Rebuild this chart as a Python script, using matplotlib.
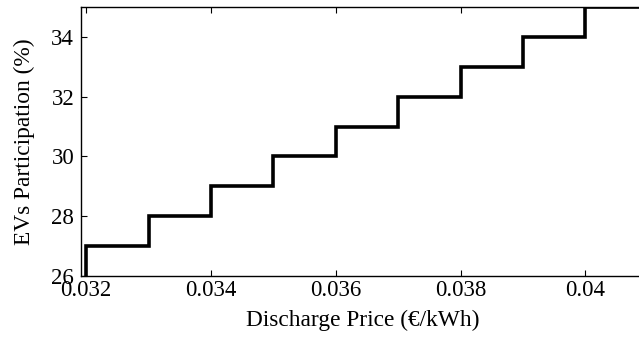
import numpy as np
import matplotlib.pyplot as plt

# discharge price (EUR/kWh) at which each participation level starts
price = [0.032, 0.032, 0.033, 0.034, 0.035, 0.036, 0.037, 0.038, 0.039, 0.040, 0.041]
participation = [26, 27, 28, 29, 30, 31, 32, 33, 34, 35, 35]

xticks = [0.032, 0.034, 0.036, 0.038, 0.04]
xticklabels = ['0.032', '0.034', '0.036', '0.038', '0.04']
yticks = [26, 28, 30, 32, 34]

plt.rcParams['font.family'] = ['Liberation Serif', 'DejaVu Serif']

fig = plt.figure(figsize=(6.39, 3.37), dpi=100)
ax = fig.add_axes([0.127, 0.181, 0.88, 0.798])

ax.step(price, participation, where='post', color='black', lw=2.6, solid_joinstyle='miter')

ax.set_xlim(0.03192, 0.04093)
ax.set_ylim(26, 35)
ax.set_xticks(xticks)
ax.set_xticklabels(xticklabels)
ax.set_yticks(yticks)

ax.tick_params(direction='in', length=4, width=0.8, labelsize=16.5, top=True, right=False)
ax.tick_params(axis='x', pad=3)
ax.tick_params(axis='y', pad=5)
ax.spines['right'].set_visible(False)
for s in ['left', 'top', 'bottom']:
    ax.spines[s].set_linewidth(1.0)

ax.set_xlabel('Discharge Price (€/kWh)', fontsize=16.8, labelpad=6)
ax.set_ylabel('EVs Participation (%)', fontsize=16.8, labelpad=12)

fig.savefig('out.png', dpi=100)
